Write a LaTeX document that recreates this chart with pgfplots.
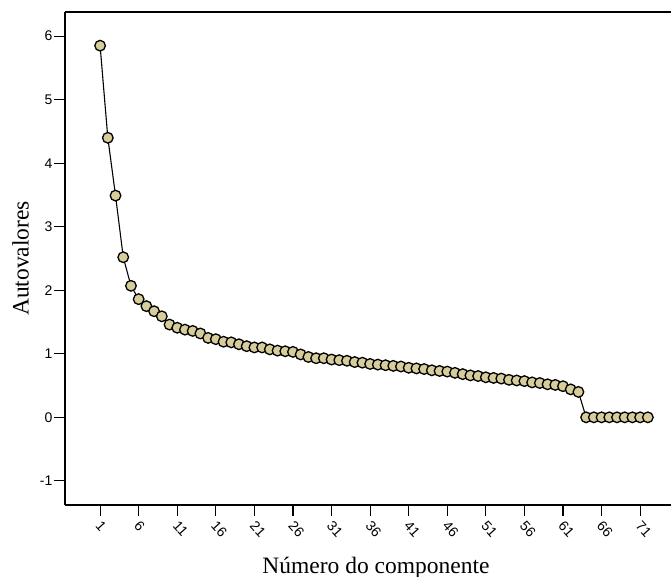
\documentclass[border=0pt]{standalone}
\usepackage{fontspec}
\setmainfont{Liberation Serif}
\newfontfamily\ticfont{Liberation Sans}
\usepackage{pgfplots}
\pgfplotsset{compat=1.18}
\definecolor{markfill}{RGB}{214,205,155}

\begin{document}
\begin{tikzpicture}
\begin{axis}[
    at={(0,0)}, anchor=south west,
    scale only axis,
    width=606bp, height=493bp,
    xmin=-3.55, xmax=75,
    ymin=-1.38, ymax=6.38,
    axis x line*=box,
    axis y line*=left,
    axis line style={line width=1.6bp},
    xtick pos=bottom, ytick pos=left,
    xtick={1,6,...,71},
    ytick={-1,0,...,6},
    tick align=outside,
    major tick length=11bp,
    tick style={black, line width=1.2bp},
    /pgf/number format/assume math mode=true,
    ticklabel style={font=\ticfont\fontsize{14bp}{14bp}\selectfont},
    xticklabel style={rotate=-48, anchor=north west, inner sep=1bp, xshift=3bp},
    yticklabel style={inner sep=1.5bp},
    xlabel={Número do componente},
    ylabel={Autovalores},
    label style={font=\fontsize{23.5bp}{23.5bp}\selectfont},
    xlabel style={yshift=-14bp, xshift=8bp},
    ylabel style={yshift=6bp},
]
\addplot[black, line width=1.1bp, mark=*, mark size=5.3bp,
    mark options={fill=markfill, draw=black, line width=1.3bp}]
coordinates {
(1,5.85) (2,4.40) (3,3.49) (4,2.52) (5,2.07) (6,1.86) (7,1.75) (8,1.67)
(9,1.59) (10,1.46) (11,1.41) (12,1.38) (13,1.36) (14,1.32) (15,1.25) (16,1.23)
(17,1.19) (18,1.18) (19,1.15) (20,1.12) (21,1.10) (22,1.10) (23,1.07) (24,1.05)
(25,1.04) (26,1.03) (27,0.99) (28,0.95) (29,0.93) (30,0.93) (31,0.91) (32,0.90)
(33,0.89) (34,0.87) (35,0.86) (36,0.84) (37,0.83) (38,0.82) (39,0.81) (40,0.80)
(41,0.78) (42,0.77) (43,0.76) (44,0.74) (45,0.73) (46,0.72) (47,0.70) (48,0.68)
(49,0.66) (50,0.65) (51,0.63) (52,0.62) (53,0.61) (54,0.59) (55,0.58) (56,0.57)
(57,0.55) (58,0.54) (59,0.52) (60,0.51) (61,0.49) (62,0.44) (63,0.40) (64,0)
(65,0) (66,0) (67,0) (68,0) (69,0) (70,0) (71,0) (72,0)
};
\end{axis}
\pgfresetboundingbox
\path[use as bounding box] (-65bp,-72bp) rectangle (606bp,505bp);
\end{tikzpicture}
\end{document}
